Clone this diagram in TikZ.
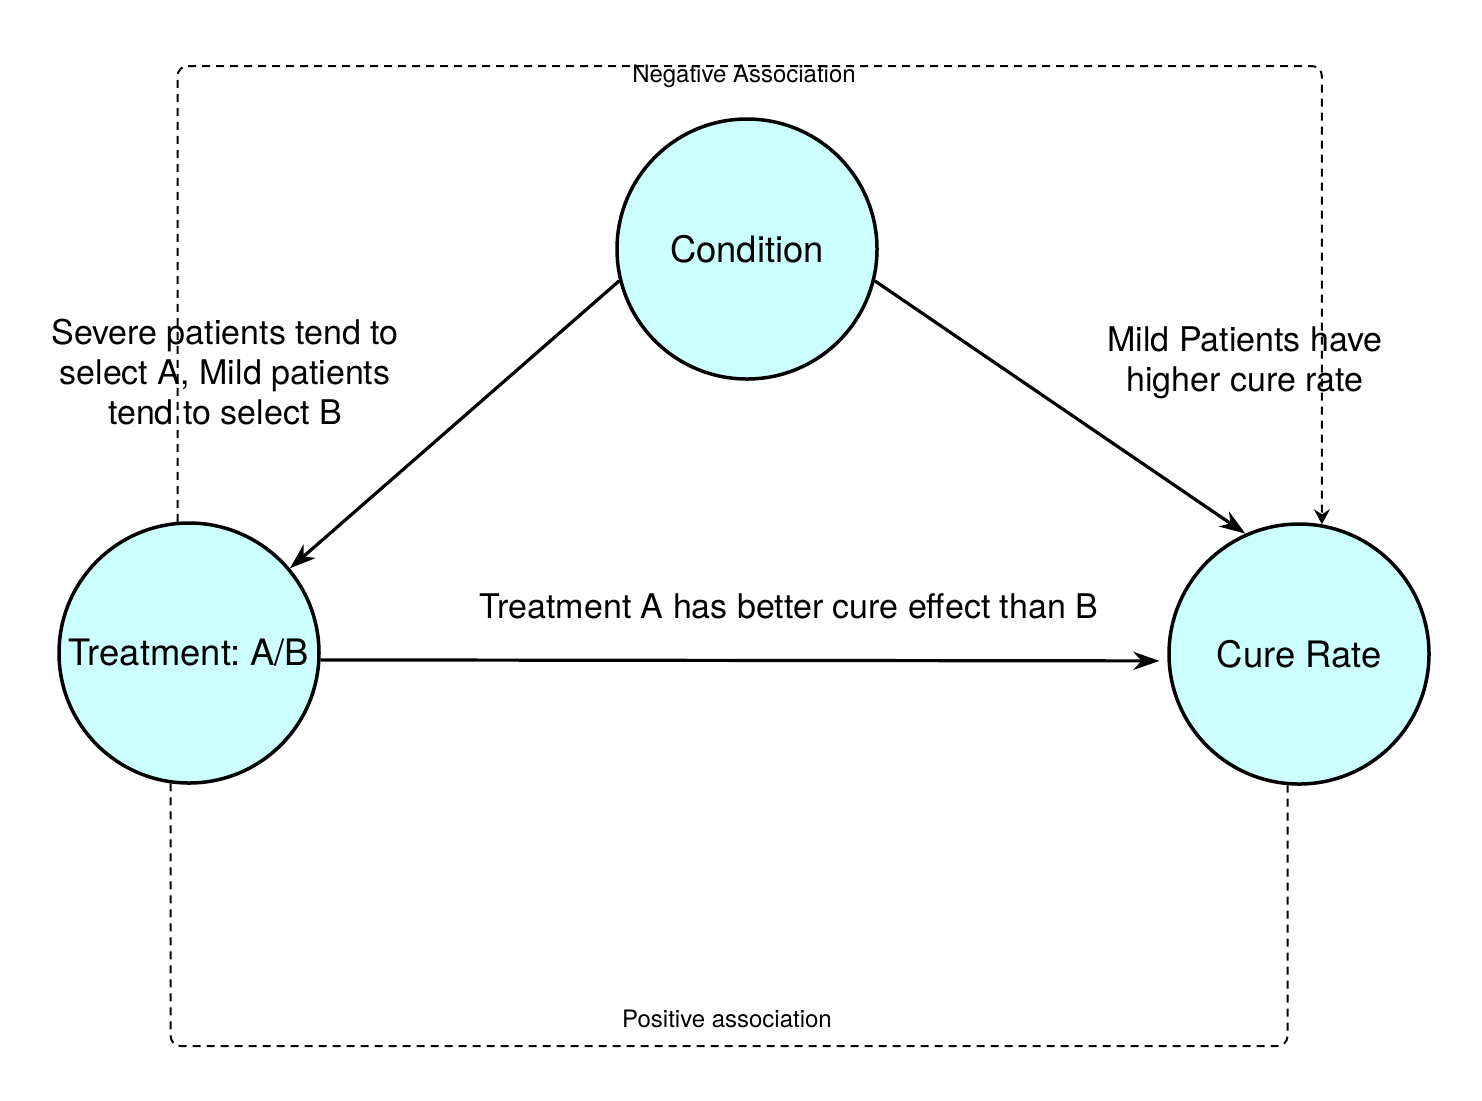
\documentclass[tikz,border=0pt]{standalone}
\usepackage{fontspec}
\setmainfont{TeX Gyre Heros}
\usetikzlibrary{arrows.meta}
\definecolor{nodecyan}{HTML}{CCFFFF}
\frenchspacing
\begin{document}
\begin{tikzpicture}[
			x=0.5pt, y=-0.5pt,
			var/.style={circle,draw,fill=nodecyan,line width=1.75pt,minimum size=130pt,inner sep=0pt,font=\fontsize{18.2}{21}\selectfont},
			label text/.style={align=center,font=\fontsize{17}{20}\selectfont},
			small text/.style={font=\fontsize{12}{14}\selectfont},
			effect/.style={line width=1.6pt,-{Stealth[length=13pt,width=9pt,inset=4pt]}},
			assoc/.style={line width=1pt,dash pattern=on 4pt off 3pt,rounded corners=5pt}
		]
		\useasboundingbox (0,0) rectangle (1482,1100);
		\node[var] (cond) at (747,249) {Condition};
		\node[var] (treat) at (189,653) {Treatment: A/B};
		\node[var] (cure) at (1299,654) {Cure Rate};

		\coordinate (negline) at (0,66);
		\coordinate (posline) at (0,1046);

		\draw[effect] (cond.194) -- (treat.40);
		\draw[effect] (cond.346) -- (cure.114);
		\draw[effect] (treat.-3) -- ([xshift=-4pt]cure.183);

		\draw[assoc,-{Stealth[length=7.5pt,width=8pt,inset=2.5pt]}] (treat.95) -- (treat.95 |- negline) -| (cure.80);
		\draw[assoc] (treat.262) -- (treat.262 |- posline) -| (cure.265);

		\node[label text] (selection) at (225,372) {Severe patients tend to\\select A, Mild patients\\tend to select B};
		\node[label text] (mildrate) at (1245,363) {Mild Patients have\\higher cure rate};
		\node[label text] (better) at (789,606) {Treatment A has better cure effect than B};
		\node[small text] (negative) at (744,76) {Negative Association};
		\node[small text] (positive) at (727,1019) {Positive association};
	\end{tikzpicture}
\end{document}
